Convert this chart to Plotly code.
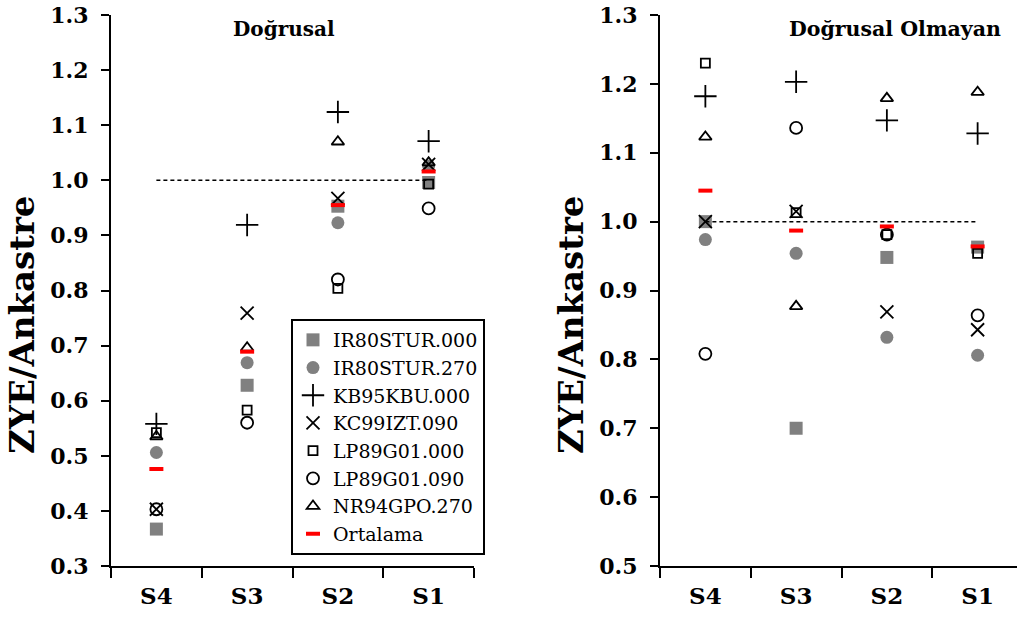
import plotly.graph_objects as go

categories = ["S4", "S3", "S2", "S1"]
series_names = ["IR80STUR.000", "IR80STUR.270", "KB95KBU.000", "KC99IZT.090",
                "LP89G01.000", "LP89G01.090", "NR94GPO.270", "Ortalama"]

# Doğrusal (linear) panel
lin_IR80STUR_000 = [0.367, 0.628, 0.953, 0.996]
lin_IR80STUR_270 = [0.506, 0.669, 0.923, 1.026]
lin_KB95KBU_000 = [0.558, 0.919, 1.124, 1.071]
lin_KC99IZT_090 = [0.403, 0.759, 0.967, 1.029]
lin_LP89G01_000 = [0.542, 0.583, 0.804, 0.993]
lin_LP89G01_090 = [0.403, 0.560, 0.820, 0.949]
lin_NR94GPO_270 = [0.535, 0.696, 1.070, 1.032]
lin_Ortalama = [0.476, 0.689, 0.955, 1.016]

# Doğrusal Olmayan (nonlinear) panel
nl_IR80STUR_000 = [1.000, 0.700, 0.948, 0.963]
nl_IR80STUR_270 = [0.974, 0.954, 0.832, 0.806]
nl_KB95KBU_000 = [1.182, 1.203, 1.147, 1.128]
nl_KC99IZT_090 = [1.000, 1.015, 0.869, 0.843]
nl_LP89G01_000 = [1.230, 1.013, 0.981, 0.954]
nl_LP89G01_090 = [0.808, 1.136, 0.981, 0.864]
nl_NR94GPO_270 = [1.123, 0.877, 1.179, 1.188]
nl_Ortalama = [1.045, 0.987, 0.993, 0.964]

reference_cats = ["S4", "S1"]
reference_val = [1.0, 1.0]

lin_series = [lin_IR80STUR_000, lin_IR80STUR_270, lin_KB95KBU_000, lin_KC99IZT_090,
              lin_LP89G01_000, lin_LP89G01_090, lin_NR94GPO_270, lin_Ortalama]
nl_series = [nl_IR80STUR_000, nl_IR80STUR_270, nl_KB95KBU_000, nl_KC99IZT_090,
             nl_LP89G01_000, nl_LP89G01_090, nl_NR94GPO_270, nl_Ortalama]

GRAY = "#808080"
styles = [
    dict(symbol="square", size=13, color=GRAY, line=dict(width=0)),
    dict(symbol="circle", size=13, color=GRAY, line=dict(width=0)),
    dict(symbol="cross-thin", size=16, color="black", line=dict(width=1.8, color="black")),
    dict(symbol="x-thin", size=13, color="black", line=dict(width=1.8, color="black")),
    dict(symbol="square-open", size=9, color="black", line=dict(width=1.8, color="black")),
    dict(symbol="circle-open", size=12, color="black", line=dict(width=1.8, color="black")),
    dict(symbol="triangle-up-open", size=11, color="black", line=dict(width=1.8, color="black")),
    dict(symbol="line-ew", size=10, color="red", line=dict(width=4, color="red")),
]

FONT = "DejaVu Serif"

fig = go.Figure()

for name, vals, st in zip(series_names, lin_series, styles):
    fig.add_trace(go.Scatter(x=categories, y=vals, mode="markers", name=name,
                             marker=st, xaxis="x", yaxis="y", showlegend=True))
for name, vals, st in zip(series_names, nl_series, styles):
    fig.add_trace(go.Scatter(x=categories, y=vals, mode="markers", name=name,
                             marker=st, xaxis="x2", yaxis="y2", showlegend=False))

# reference dashed lines
fig.add_trace(go.Scatter(x=reference_cats, y=reference_val, mode="lines",
                         line=dict(color="black", width=1.5, dash="4px,3px"),
                         showlegend=False, hoverinfo="skip", xaxis="x", yaxis="y"))
fig.add_trace(go.Scatter(x=reference_cats, y=reference_val, mode="lines",
                         line=dict(color="black", width=1.5, dash="4px,3px"),
                         showlegend=False, hoverinfo="skip", xaxis="x2", yaxis="y2"))

W, H = 1017, 626
L1, R1 = 111, 474
L2 = 660
cat_px = (R1 - L1) / 4.0

xaxis_common = dict(
    type="category", categoryorder="array", categoryarray=categories,
    showline=True, linecolor="black", linewidth=2,
    ticks="outside", ticklen=10, tickwidth=1.5, tickcolor="black",
    tickson="boundaries", showgrid=False, zeroline=False,
    tickfont=dict(family=FONT, size=23, color="black", weight="bold"),
    ticklabelstandoff=8, fixedrange=True,
)
yaxis_common = dict(
    showline=True, linecolor="black", linewidth=2,
    ticks="outside", ticklen=8, tickwidth=1.5, tickcolor="black",
    showgrid=False, zeroline=False, dtick=0.1, tickformat=".1f",
    tickfont=dict(family=FONT, size=22, color="black", weight="bold"),
    ticklabelstandoff=8,
)

fig.update_layout(
    width=W, height=H,
    margin=dict(l=0, r=0, t=15, b=60),
    paper_bgcolor="white", plot_bgcolor="white",
    font=dict(family=FONT, color="black"),
    xaxis=dict(domain=[L1 / W, R1 / W], range=[-0.5, 3.5], anchor="y", **xaxis_common),
    yaxis=dict(domain=[0, 1], range=[0.3, 1.3], anchor="x", **yaxis_common),
    xaxis2=dict(domain=[L2 / W, 1.0], range=[-0.5, -0.5 + (W - L2) / cat_px], anchor="y2", **xaxis_common),
    yaxis2=dict(domain=[0, 1], range=[0.5, 1.3], anchor="x2", **yaxis_common),
    legend=dict(x=291 / W, y=(566 - 319) / 551, xanchor="left", yanchor="top",
                bgcolor="white", bordercolor="black", borderwidth=2,
                font=dict(family=FONT, size=19, color="black"),
                itemwidth=30, tracegroupgap=0),
    showlegend=True,
)

fig.update_layout(annotations=[
    dict(text="<b>Doğrusal</b>", x=284 / W, xref="paper", y=(566 - 29) / 551, yref="paper",
         xanchor="center", yanchor="middle", showarrow=False,
         font=dict(family=FONT, size=20, color="black")),
    dict(text="<b>Doğrusal Olmayan</b>", x=895 / W, xref="paper", y=(566 - 29) / 551, yref="paper",
         xanchor="center", yanchor="middle", showarrow=False,
         font=dict(family=FONT, size=20.5, color="black")),
    dict(text="<b>ZYE/Ankastre</b>", x=22 / W, xref="paper", y=(566 - 325) / 551, yref="paper",
         xanchor="center", yanchor="middle", textangle=-90, showarrow=False,
         font=dict(family=FONT, size=34, color="black")),
    dict(text="<b>ZYE/Ankastre</b>", x=571 / W, xref="paper", y=(566 - 325) / 551, yref="paper",
         xanchor="center", yanchor="middle", textangle=-90, showarrow=False,
         font=dict(family=FONT, size=34, color="black")),
])

fig.write_html("out.html")
